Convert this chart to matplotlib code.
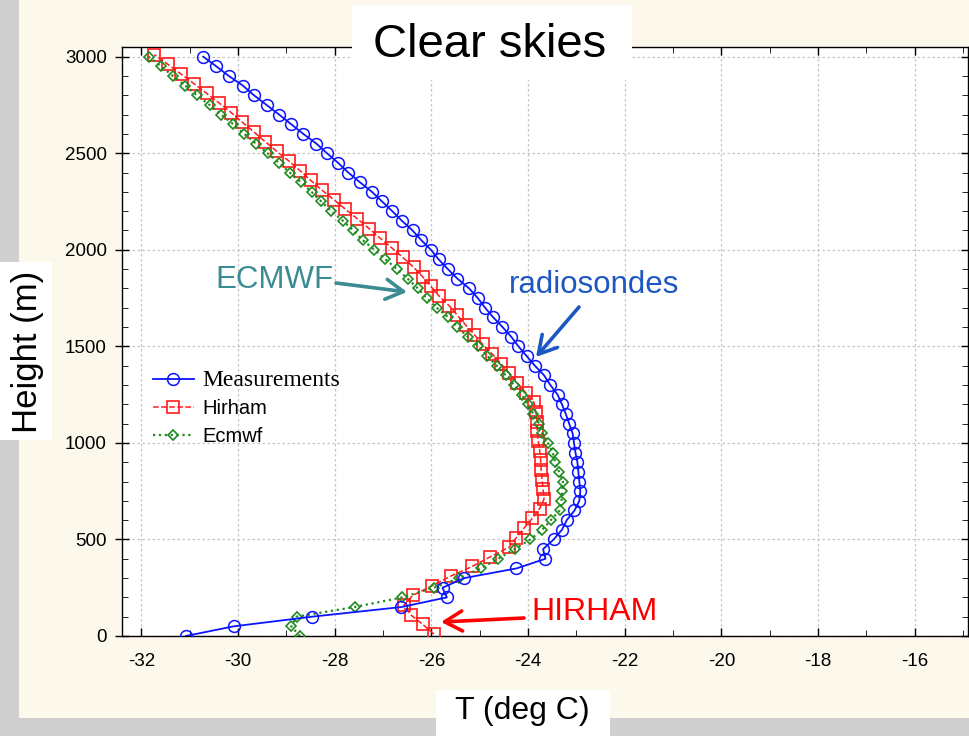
import matplotlib
matplotlib.use("Agg")
import matplotlib.pyplot as plt
from matplotlib.patches import Rectangle

plt.rcParams['font.family'] = ['Liberation Sans', 'DejaVu Sans']

# ---------------- data ----------------
meas_height = [0, 50, 100, 150, 200, 250, 300, 350, 400, 450, 500, 550, 600, 650, 700,
               750, 800, 850, 900, 950, 1000, 1050, 1100, 1150, 1200, 1250, 1300, 1350,
               1400, 1450, 1500, 1550, 1600, 1650, 1700, 1750, 1800, 1850, 1900, 1950,
               2000, 2050, 2100, 2150, 2200, 2250, 2300, 2350, 2400, 2450, 2500, 2550,
               2600, 2650, 2700, 2750, 2800, 2850, 2900, 2950, 3000]
meas_temp = [-31.08, -30.09, -28.47, -26.62, -25.68, -25.77, -25.32, -24.24, -23.64, -23.69,
             -23.47, -23.30, -23.20, -23.04, -22.94, -22.92, -22.94, -22.96, -22.98, -23.02,
             -23.05, -23.08, -23.15, -23.22, -23.30, -23.39, -23.54, -23.67, -23.86, -24.03,
             -24.20, -24.35, -24.53, -24.72, -24.89, -25.04, -25.22, -25.46, -25.66, -25.85,
             -26.01, -26.21, -26.39, -26.61, -26.81, -27.02, -27.23, -27.48, -27.72, -27.93,
             -28.16, -28.38, -28.65, -28.90, -29.15, -29.41, -29.67, -29.90, -30.19, -30.45,
             -30.72]

hirham_height = [10, 60, 110, 160, 210, 260, 310, 360, 410, 460, 510, 560, 610, 660, 710,
                 760, 810, 860, 910, 960, 1010, 1060, 1110, 1160, 1210, 1260, 1310, 1360,
                 1410, 1460, 1510, 1560, 1610, 1660, 1710, 1760, 1810, 1860, 1910, 1960,
                 2010, 2060, 2110, 2160, 2210, 2260, 2310, 2360, 2410, 2460, 2510, 2560,
                 2610, 2660, 2710, 2760, 2810, 2860, 2910, 2960, 3010]
hirham_temp = [-25.95, -26.18, -26.43, -26.57, -26.39, -25.99, -25.60, -25.16, -24.78, -24.39,
               -24.24, -24.08, -23.91, -23.76, -23.67, -23.69, -23.71, -23.73, -23.74, -23.76,
               -23.79, -23.81, -23.81, -23.84, -23.88, -24.05, -24.22, -24.39, -24.56, -24.74,
               -24.94, -25.11, -25.29, -25.46, -25.63, -25.84, -26.01, -26.18, -26.37, -26.59,
               -26.82, -27.06, -27.29, -27.53, -27.78, -28.02, -28.27, -28.50, -28.72, -28.95,
               -29.20, -29.44, -29.67, -29.91, -30.14, -30.39, -30.65, -30.91, -31.18, -31.45,
               -31.73]

ecmwf_height = [0, 50, 100, 150, 200, 250, 300, 350, 400, 450, 500, 550, 600, 650, 700,
                750, 800, 850, 900, 950, 1000, 1050, 1100, 1150, 1200, 1250, 1300, 1350,
                1400, 1450, 1500, 1550, 1600, 1650, 1700, 1750, 1800, 1850, 1900, 1950,
                2000, 2050, 2100, 2150, 2200, 2250, 2300, 2350, 2400, 2450, 2500, 2550,
                2600, 2650, 2700, 2750, 2800, 2850, 2900, 2950, 3000]
ecmwf_temp = [-28.72, -28.90, -28.79, -27.59, -26.60, -25.95, -25.42, -24.98, -24.62, -24.28,
              -23.95, -23.71, -23.53, -23.35, -23.31, -23.29, -23.28, -23.36, -23.44, -23.49,
              -23.59, -23.71, -23.77, -23.89, -24.01, -24.13, -24.29, -24.46, -24.65, -24.84,
              -25.03, -25.25, -25.46, -25.65, -25.89, -26.10, -26.28, -26.49, -26.71, -26.95,
              -27.18, -27.42, -27.62, -27.83, -28.07, -28.28, -28.48, -28.70, -28.93, -29.15,
              -29.39, -29.63, -29.87, -30.10, -30.35, -30.59, -30.85, -31.09, -31.35, -31.59,
              -31.85]

x_ticks = [-32, -30, -28, -26, -24, -22, -20, -18, -16]
y_ticks = [0, 500, 1000, 1500, 2000, 2500, 3000]

# ---------------- figure ----------------
W, H = 970, 736
fig = plt.figure(figsize=(W / 100, H / 100), dpi=100)
fig.patch.set_facecolor('#cfcfcf')


def fx(px):
    return px / W


def fy(py):
    return 1 - py / H


# cream slide panel
fig.patches.append(Rectangle((fx(19), fy(718)), fx(970 - 19), 718 / H,
                             transform=fig.transFigure, facecolor='#fdf8ec',
                             edgecolor='none', zorder=-5))

ax = fig.add_axes([fx(122), fy(636), fx(968 - 122), (636 - 47) / H])
ax.set_facecolor('white')

ax.plot(meas_temp, meas_height, '-o', color='#0a14ff', mfc='none', ms=8.5, mew=1.1,
        lw=1.3, label='Measurements', zorder=4)
ax.plot(hirham_temp, hirham_height, '--s', color='#ff1a1a', mfc='none', ms=8, mew=1.2,
        lw=1.1, label='Hirham', zorder=3)
ax.plot(ecmwf_temp, ecmwf_height, ':D', color='#1f8a1f', mfc='none', ms=5.5, mew=1.2,
        lw=1.6, label='Ecmwf', zorder=3)

ax.set_xlim(-32.4, -14.9)
ax.set_ylim(0, 3050)
ax.set_xticks(x_ticks)
ax.set_xticklabels([str(v) for v in x_ticks])
ax.set_xticks([-31, -29, -27, -25, -23, -21, -19, -17, -15], minor=True)
ax.set_yticks(y_ticks)
ax.set_yticklabels([str(v) for v in y_ticks])
ax.set_yticks([v for v in range(100, 3050, 100) if v % 500], minor=True)

ax.grid(True, which='major', color='#c4c4c4', ls=(0, (2, 2)), lw=0.9)
ax.tick_params(axis='both', which='major', labelsize=13.5, direction='in', length=6,
               top=True, right=True, width=1)
ax.tick_params(axis='both', which='minor', direction='in', length=4, top=True, right=True)
ax.tick_params(axis='y', which='major', direction='inout', length=10, pad=6)
ax.tick_params(axis='x', which='major', pad=12)
for s in ax.spines.values():
    s.set_linewidth(1.0)

leg = ax.legend(loc='upper left', bbox_to_anchor=(0.037, 0.452), frameon=False,
                borderaxespad=0, borderpad=0, handlelength=2.0, handletextpad=0.45,
                labelspacing=0.42, fontsize=14.5)
texts = leg.get_texts()
texts[0].set_fontfamily('Liberation Serif')
texts[0].set_fontsize(17)

# title box
fig.patches.append(Rectangle((fx(352), fy(80)), fx(632 - 352), 75 / H,
                             transform=fig.transFigure, facecolor='white',
                             edgecolor='none', zorder=5))
fig.text(fx(490), fy(45), 'Clear skies', fontsize=34, ha='center', va='center', zorder=6)

# y label box
fig.patches.append(Rectangle((0, fy(440)), fx(52), 178 / H,
                             transform=fig.transFigure, facecolor='white',
                             edgecolor='none', zorder=5))
fig.text(fx(27), fy(352), 'Height (m)', fontsize=25, rotation=90, ha='center',
         va='center', zorder=6)

# x label box
fig.patches.append(Rectangle((fx(436), 0), fx(610 - 436), 46 / H,
                             transform=fig.transFigure, facecolor='white',
                             edgecolor='none', zorder=5))
fig.text(fx(522), fy(711), 'T (deg C)', fontsize=23, ha='center', va='center', zorder=6)

# annotations
teal = '#3b8b93'
blue = '#1d57c2'
red = '#ff0000'
astyle = '->,head_length=0.7,head_width=0.4'

fig.text(fx(274), fy(280), 'ECMWF', color=teal, fontsize=22.5, ha='center', va='center')
ax.annotate('', xy=(fx(407), fy(292)), xytext=(fx(336), fy(283)),
            xycoords='figure fraction', textcoords='figure fraction',
            arrowprops=dict(arrowstyle=astyle, color=teal, lw=2.6, mutation_scale=18,
                            shrinkA=0, shrinkB=0))

fig.text(fx(594), fy(285), 'radiosondes', color=blue, fontsize=22.5, ha='center', va='center')
ax.annotate('', xy=(fx(536), fy(357)), xytext=(fx(579), fy(307)),
            xycoords='figure fraction', textcoords='figure fraction',
            arrowprops=dict(arrowstyle=astyle, color=blue, lw=2.6, mutation_scale=18,
                            shrinkA=0, shrinkB=0))

fig.text(fx(594), fy(612), 'HIRHAM', color=red, fontsize=23, ha='center', va='center')
ax.annotate('', xy=(fx(441), fy(622)), xytext=(fx(524), fy(618)),
            xycoords='figure fraction', textcoords='figure fraction',
            arrowprops=dict(arrowstyle=astyle, color=red, lw=2.6, mutation_scale=18,
                            shrinkA=0, shrinkB=0))

fig.savefig('out.png', dpi=100, facecolor=fig.get_facecolor())
